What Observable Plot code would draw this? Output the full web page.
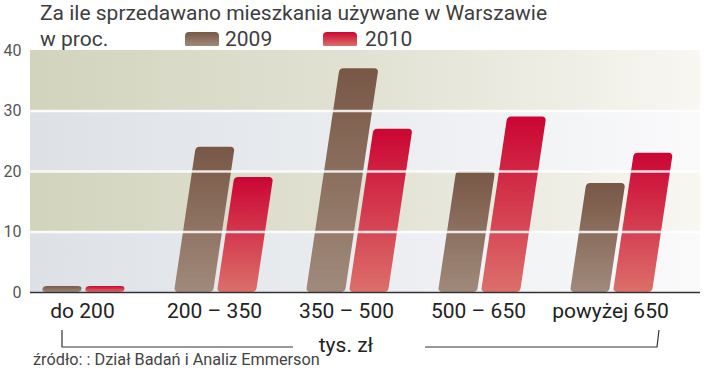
<!DOCTYPE html>
<html><head><meta charset="utf-8">
<script src="https://cdn.jsdelivr.net/npm/d3@7"></script>
<script src="https://cdn.jsdelivr.net/npm/@observablehq/plot@0.6"></script>
<style>
body{margin:0;background:#fff;}
#wrap{position:relative;width:720px;height:374px;font-family:"Roboto",sans-serif;color:#3e3e3e;}
#wrap svg{position:absolute;left:0;top:0;}
.t{position:absolute;white-space:nowrap;line-height:24px;}
#t1{left:40px;top:1px;font-size:21px;}
#t2{left:40px;top:27px;font-size:21px;}
.sw{position:absolute;width:34px;height:14px;border-radius:4px 4px 1px 1px;}
#src{left:33px;top:348px;font-size:16.3px;color:#444;}
</style></head>
<body><div id="wrap"></div>
<script>
const categories = ["do 200", "200 – 350", "350 – 500", "500 – 650", "powyżej 650"];
const years = ["2009", "2010"];
const values2009 = [1, 24, 37, 20, 18];
const values2010 = [1, 19, 27, 29, 23];
const yTicks = [0, 10, 20, 30, 40];
const bandLow = [0, 20];   // grey bands
const bandHigh = [10, 30]; // green bands
const title = "Za ile sprzedawano mieszkania używane w Warszawie";
const unitLabel = "w proc.";
const xUnit = "tys. zł";
const source = "źródło: : Dział Badań i Analiz Emmerson";

const greyBands = bandLow.map(v => ({lo: v, hi: v + 10}));
const greenBands = bandHigh.map(v => ({lo: v, hi: v + 10}));

const plot = Plot.plot({
  width: 720, height: 374,
  marginTop: 50, marginBottom: 82, marginLeft: 30, marginRight: 20,
  style: {fontFamily: '"Roboto",sans-serif', background: "transparent", color: "#222"},
  x: {domain: categories, range: [16, 676], padding: 0, tickSize: 0, tickPadding: 11, label: null, fontSize: 21},
  y: {domain: [0, 40], ticks: yTicks, tickSize: 0, tickPadding: 9, label: null},
  marks: [
    Plot.rect(greyBands, {y1: "lo", y2: "hi", fill: "url(#bgGrey)"}),
    Plot.rect(greenBands, {y1: "lo", y2: "hi", fill: "url(#bgGreen)"}),
    Plot.barY(categories, {x: d => d, y: (d, i) => values2009[i], fill: "url(#g2009)", insetLeft: 26, insetRight: 67, rx: 4}),
    Plot.barY(categories, {x: d => d, y: (d, i) => values2010[i], fill: "url(#g2010)", insetLeft: 69, insetRight: 24, rx: 4}),
    Plot.ruleY(yTicks.slice(1, 4), {stroke: "#fff", strokeOpacity: 0.85, strokeWidth: 2.5}),
    Plot.ruleY([0], {stroke: "#333", strokeWidth: 1.6})
  ]
});

const svg = d3.select(plot);
const defs = svg.insert("defs", ":first-child");
function grad(id, stops, horiz) {
  const g = defs.append("linearGradient").attr("id", id)
    .attr("x1", 0).attr("y1", 0).attr("x2", horiz ? 1 : 0).attr("y2", horiz ? 0 : 1);
  stops.forEach(([o, c]) => g.append("stop").attr("offset", o).attr("stop-color", c));
}
grad("g2009", [[0, "#785745"], [1, "#a08a7b"]]);
grad("g2010", [[0, "#cb0533"], [1, "#dc6f6a"]]);
grad("bgGreen", [[0, "#d2d4bd"], [0.55, "#e3e3d6"], [1, "#f8f7f2"]], true);
grad("bgGrey", [[0, "#dde1e6"], [0.55, "#eceef1"], [1, "#fafafb"]], true);

// slant the bars about the baseline
const y0 = plot.scale("y").apply(0);
svg.selectAll('g[aria-label="bar"]').each(function() {
  const prev = this.getAttribute("transform") || "";
  this.setAttribute("transform", `translate(0,${y0}) skewX(-8.5) translate(0,${-y0}) ${prev}`);
});
svg.selectAll('g[aria-label="y-axis tick label"] text, g[aria-label="y-axis"] text').attr("font-size", 16).attr("fill", "#555");
svg.selectAll('g[aria-label="x-axis tick label"] text, g[aria-label="x-axis"] text').attr("font-size", 21).attr("fill", "#222");

// unit bracket under the categories
const xs = plot.scale("x");
const cx = (xs.range[0] + xs.range[1]) / 2;
const by = y0 + 55;
svg.append("path").attr("fill", "none").attr("stroke", "#333").attr("stroke-width", 1.2)
  .attr("d", `M62,${y0 + 38}L62,${by}L293,${by}`);
svg.append("path").attr("fill", "none").attr("stroke", "#333").attr("stroke-width", 1.2)
  .attr("d", `M425,${by}L657,${by}L659,${y0 + 38}`);
svg.append("text").attr("x", cx).attr("y", by + 5).attr("text-anchor", "middle")
  .attr("font-size", 21).attr("fill", "#222").text(xUnit);

const wrap = document.getElementById("wrap");
wrap.appendChild(plot);
const add = (html) => wrap.insertAdjacentHTML("beforeend", html);
add(`<div class="t" id="t1">${title}</div>`);
add(`<div class="t" id="t2">${unitLabel}</div>`);
add(`<div class="sw" style="left:185px;top:32px;background:linear-gradient(#785745,#a08a7b)"></div>`);
add(`<div class="t" style="left:225px;top:27px;font-size:21px">${years[0]}</div>`);
add(`<div class="sw" style="left:323px;top:32px;background:linear-gradient(#cb0533,#dc6f6a)"></div>`);
add(`<div class="t" style="left:365px;top:27px;font-size:21px">${years[1]}</div>`);
add(`<div class="t" id="src">${source}</div>`);
</script></body></html>
